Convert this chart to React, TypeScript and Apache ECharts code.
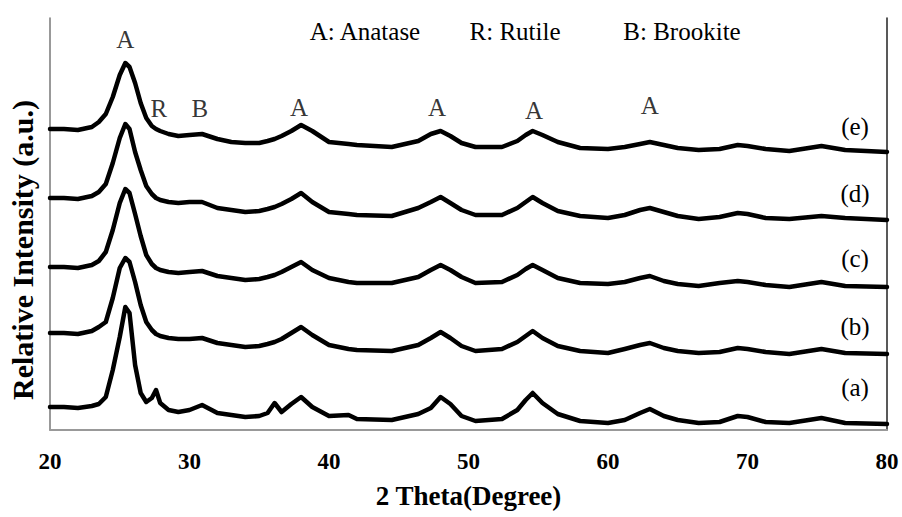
import React, { useEffect, useRef } from "react";
import * as echarts from "echarts";

// 2θ sampling positions (degrees)
const angles = [
  20, 21, 22, 23, 23.5, 24, 24.5, 25, 25.4, 25.7,
  26.1, 26.5, 26.9, 27.3, 27.6, 27.9, 28.5, 29.2, 30, 30.9,
  32, 33, 34, 35, 35.6, 36.1, 36.6, 37.3, 38, 38.8,
  40, 41.4, 42, 44.5, 46.4, 47.3, 48, 48.7, 49.5, 50.5,
  52.4, 53.5, 54.1, 54.6, 55.3, 56.4, 58, 60, 61.2, 62.3,
  63, 64, 65, 66.5, 68, 69.3, 70, 71.3, 73, 75.3,
  77, 80,
];

// Relative intensity (a.u., stacked with offsets as in the figure)
const curveE = [
  301, 301, 300, 303, 308, 316, 333, 355, 367, 363,
  347, 327, 312, 304, 301, 299, 296, 294, 295, 296,
  291, 288, 287, 287, 289, 291, 294, 299, 305, 299,
  288, 286, 285, 283, 289, 296, 299, 294, 287, 283,
  283, 289, 295, 299, 295, 288, 282, 281, 283, 286,
  288, 285, 282, 280, 281, 285, 284, 281, 279, 284,
  280, 278,
];
const curveD = [
  232, 232, 231, 234, 238, 246, 267, 292, 306, 301,
  278, 260, 244, 236, 232, 230, 228, 227, 228, 228,
  222, 220, 218, 219, 221, 223, 226, 231, 237, 228,
  218, 216, 215, 214, 222, 228, 233, 227, 220, 215,
  215, 222, 228, 233, 227, 219, 214, 212, 215, 220,
  222, 218, 214, 211, 213, 217, 216, 212, 211, 214,
  212, 210,
];
const curveC = [
  163, 163, 162, 165, 169, 178, 200, 227, 241, 237,
  216, 194, 175, 166, 162, 160, 158, 157, 158, 159,
  154, 152, 150, 151, 153, 155, 158, 163, 168, 160,
  152, 148, 147, 147, 153, 160, 165, 160, 153, 147,
  148, 155, 161, 165, 160, 152, 147, 146, 148, 152,
  154, 149, 146, 144, 147, 149, 148, 145, 143, 148,
  144, 143,
];
const curveB = [
  97, 97, 96, 99, 103, 108, 132, 162, 172, 168,
  148, 125, 108, 100, 96, 94, 92, 91, 91, 92,
  87, 85, 83, 84, 86, 88, 91, 97, 103, 95,
  85, 81, 80, 79, 85, 92, 98, 92, 84, 79,
  81, 88, 94, 99, 92, 84, 79, 77, 81, 85,
  87, 82, 79, 77, 78, 82, 81, 78, 76, 81,
  77, 76,
];
const curveA = [
  23, 23, 22, 24, 26, 33, 60, 93, 123, 117,
  65, 37, 28, 32, 40, 27, 20, 18, 20, 25,
  17, 15, 13, 14, 17, 27, 18, 26, 33, 23,
  14, 15, 11, 10, 16, 22, 33, 26, 14, 9,
  11, 20, 30, 37, 27, 16, 9, 7, 10, 17,
  21, 14, 10, 7, 8, 14, 13, 8, 7, 12,
  7, 6,
];

const sampleNames = ["(a)", "(b)", "(c)", "(d)", "(e)"];
const sampleLabelY = [387, 326, 258, 193, 126];

// Phase labels over the peaks: [2θ, intensity, phase]
const peakAngles = [25.4, 27.8, 30.75, 37.85, 47.75, 54.7, 63.0];
const peakHeights = [391, 322, 322, 323, 323, 320, 325];
const peakPhases = ["A", "R", "B", "A", "A", "A", "A"];

const phaseKey = ["A: Anatase", "R: Rutile", "B: Brookite"];
const phaseKeyX = [365, 515, 682];

const SERIF = "Liberation Serif";

export default function App() {
  const ref = useRef<HTMLDivElement>(null);
  useEffect(() => {
    const chart = echarts.init(ref.current!, null, { renderer: "svg" });
    const curves = [curveA, curveB, curveC, curveD, curveE];
    const lineSeries = curves.map((vals, i) => ({
      type: "line",
      name: sampleNames[i],
      data: angles.map((a, j) => [a, vals[j]]),
      showSymbol: false,
      symbol: "none",
      lineStyle: { color: "#000", width: 4.5, join: "round", cap: "round" },
      z: 2,
    }));
    chart.setOption({
      animation: false,
      backgroundColor: "#fff",
      textStyle: { fontFamily: SERIF },
      grid: { left: 50, right: 15, top: 18, bottom: 87 },
      xAxis: {
        type: "value",
        min: 20,
        max: 80,
        interval: 10,
        name: "2 Theta(Degree)",
        nameLocation: "middle",
        nameGap: 52,
        nameTextStyle: { fontFamily: SERIF, fontWeight: "bold", fontSize: 27, color: "#000" },
        axisLine: { show: true, lineStyle: { color: "#999", width: 2 } },
        axisTick: { show: false },
        splitLine: { show: false },
        axisLabel: { margin: 20, fontFamily: SERIF, fontWeight: "bold", fontSize: 23, color: "#000" },
      },
      yAxis: [
        {
          type: "value",
          min: 0,
          max: 412,
          position: "left",
          axisLine: { show: true, onZero: false, lineStyle: { color: "#777", width: 1.5 } },
          axisTick: { show: false },
          axisLabel: { show: false },
          splitLine: { show: false },
        },
        {
          type: "value",
          min: 0,
          max: 412,
          position: "right",
          axisLine: { show: true, onZero: false, lineStyle: { color: "#222", width: 1.5 } },
          axisTick: { show: false },
          axisLabel: { show: false },
          splitLine: { show: false },
        },
      ],
      series: [
        ...lineSeries,
        {
          type: "scatter",
          name: "phases",
          symbolSize: 0,
          data: peakAngles.map((a, i) => ({ value: [a, peakHeights[i]], label: { formatter: peakPhases[i] } })),
          label: {
            show: true,
            position: "inside",
            fontFamily: SERIF,
            fontSize: 25,
            color: "#000",
          },
          silent: true,
          z: 3,
        },
      ],
      graphic: [
        {
          type: "text",
          x: 22,
          y: 250,
          rotation: Math.PI / 2,
          style: {
            text: "Relative Intensity (a.u.)",
            font: "bold 30px Liberation Serif",
            fill: "#000",
            align: "center",
            verticalAlign: "middle",
          },
        },
        ...phaseKey.map((t, i) => ({
          type: "text",
          x: phaseKeyX[i],
          y: 31,
          style: { text: t, font: "25px Liberation Serif", fill: "#000", align: "center", verticalAlign: "middle" },
        })),
        ...sampleNames.map((t, i) => ({
          type: "text",
          x: 855,
          y: sampleLabelY[i],
          style: { text: t, font: "25px Liberation Serif", fill: "#000", align: "center", verticalAlign: "middle" },
        })),
      ],
    });
    return () => chart.dispose();
  }, []);
  return <div ref={ref} style={{ position: "fixed", left: 0, top: 0, width: 902, height: 517 }} />;
}
